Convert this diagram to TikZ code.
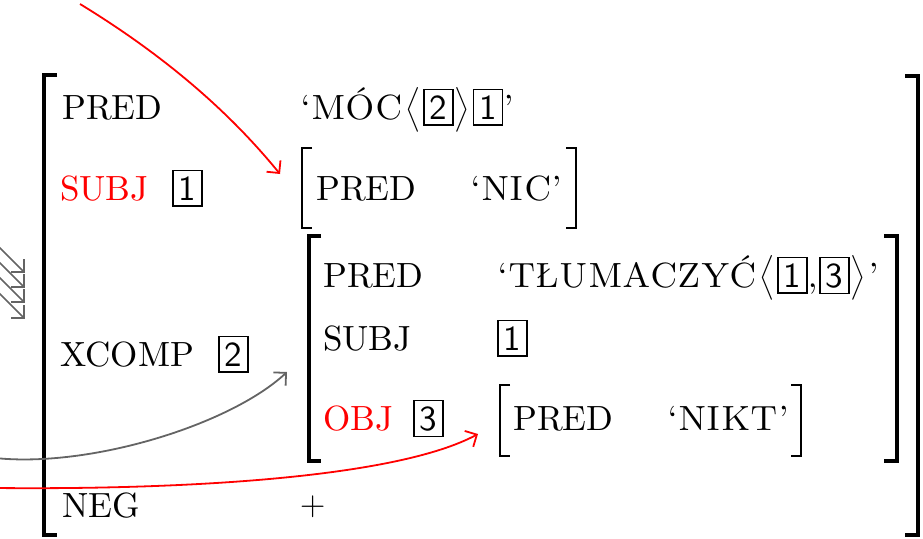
\RequirePackage{fix-cm}
\documentclass[tikz,border=0pt]{standalone}
\usepackage{amsmath}
\usepackage{fontspec}
\setmainfont{lmroman10-regular.otf}
\setsansfont{lmsans10-regular.otf}
\newfontfamily\capsfont{lmromancaps10-regular.otf}
\usetikzlibrary{arrows.meta}
\definecolor{arrgray}{RGB}{100,100,100}
\newcommand\bx[1]{\setlength\fboxsep{5pt}\setlength\fboxrule{1.5pt}\fbox{\sffamily #1}}
\newcommand\lang{\kern2pt$\bigl\langle$\kern3pt}
\newcommand\rang{\kern1pt$\bigr\rangle$\kern3pt}
\tikzset{
  t/.style={anchor=base west,inner sep=0pt},
  val/.style={t,font=\fontsize{35}{42}\capsfont},
  brk/.style={line width=3.2pt,line cap=butt,line join=miter},
  ibrk/.style={line width=2.6pt,line cap=butt,line join=miter},
  arr/.style={line width=1.8pt,-{Straight Barb[length=9pt,width=18pt,line width=1.8pt]}},
}
\begin{document}
\begin{tikzpicture}[x=1pt,y=-1pt,font=\fontsize{35}{42}\selectfont]
\clip (0,0) rectangle (923,538);
% text
\node[t] (p1) at (62,119) {PRED};
\node[val] (v1) at (300,119) {‘MÓC\lang\bx{2}\rang\bx{1}’};
\node[t,red] (s1) at (60,200) {SUBJ};
\node[t] (b1) at (172,200) {\bx{1}};
\node[t] (p2) at (316,200) {PRED};
\node[val] (v2) at (470,200) {‘NIC’};
\node[t] (x1) at (60,366) {XCOMP};
\node[t] (b2) at (218,366) {\bx{2}};
\node[t] (p3) at (323,287) {PRED};
\node[val] (v3) at (497,287) {‘TŁUMACZYĆ\lang\bx{1},\bx{3}\rang’};
\node[t] (s2) at (323,350) {SUBJ};
\node[t] (b3) at (497,350) {\bx{1}};
\node[t,red] (o1) at (323,430) {OBJ};
\node[t] (b4) at (413,430) {\bx{3}};
\node[t] (p4) at (513,430) {PRED};
\node[val] (v4) at (667,430) {‘NIKT’};
\node[t] (n1) at (62,517) {NEG};
\node[t] (pl) at (300,515) {$+$};
% brackets
\draw[brk] (57,75) -- (44,75) -- (44,535) -- (57,535);
\draw[brk] (905,76) -- (918,76) -- (918,535) -- (905,535);
\draw[ibrk] (312,148) -- (302,148) -- (302,228) -- (312,228);
\draw[ibrk] (566,148) -- (576,148) -- (576,228) -- (566,228);
\draw[brk] (321,236) -- (309,236) -- (309,461) -- (321,461);
\draw[brk] (884,236) -- (897,236) -- (897,461) -- (884,461);
\draw[ibrk] (510,385) -- (500,385) -- (500,456) -- (510,456);
\draw[ibrk] (791,385) -- (801,385) -- (801,456) -- (791,456);
% arrows
\coordinate (ra0) at (80,4);
\coordinate (ra1) at (280,174);
\draw[arr,red] (ra0) .. controls (180,65) and (240,125) .. (ra1);
\coordinate (ga0) at (-5,458);
\coordinate (ga1) at (287,372);
\draw[arr,arrgray] (ga0) .. controls (90,468) and (230,425) .. (ga1);
\coordinate (rb0) at (-5,488);
\coordinate (rb1) at (478,434);
\draw[arr,red] (rb0) .. controls (200,490) and (400,476) .. (rb1);
\foreach \i/\yy in {1/273,2/288,3/303,4/319}{
  \coordinate (ls\i) at (-20,\yy-45);
  \coordinate (le\i) at (25,\yy);
  \draw[arr,arrgray,line width=1.6pt] (ls\i) -- (le\i);
}
\end{tikzpicture}
\end{document}
